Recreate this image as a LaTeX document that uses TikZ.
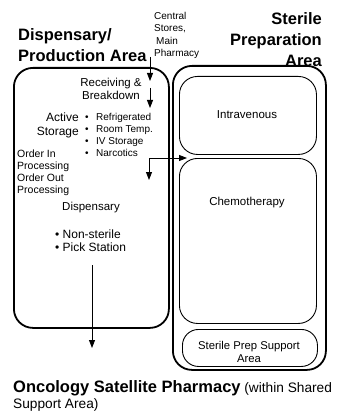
\documentclass[tikz,border=0pt]{standalone}
\usepackage{fontspec}
\setmainfont{Liberation Sans}
\usetikzlibrary{arrows.meta}
\newcommand{\blt}{\makebox[11pt][l]{•}}
\begin{document}
\begin{tikzpicture}[x=1pt,y=-1pt,
  area/.style={draw, line width=1.8pt, rounded corners=19pt, inner sep=0pt, anchor=north west},
  room/.style={draw, line width=0.9pt, rounded corners=18pt, inner sep=0pt, anchor=north west},
  flow/.style={line width=0.9pt, -{Triangle[length=8pt,width=6pt]}},
  twoway/.style={line width=0.9pt, {Triangle[length=8pt,width=6pt]}-{Triangle[length=8pt,width=6pt]}},
  heading/.style={inner sep=0pt, font=\fontsize{16.5}{21}\selectfont\bfseries},
  txt/.style={inner sep=0pt, font=\fontsize{11.5}{12.5}\selectfont},
  small/.style={inner sep=0pt, font=\fontsize{10}{12}\selectfont},
]
\useasboundingbox (0,0) rectangle (340,417);

% outer areas
\node[area, minimum width=155pt, minimum height=260pt] (disp) at (13,67) {};
\node[area, minimum width=153pt, minimum height=304pt] (sterile) at (172,65) {};

% rooms of the sterile preparation area
\node[room, minimum width=137pt, minimum height=78pt] (iv) at (179,76) {};
\node[room, minimum width=137pt, minimum height=165pt] (chemo) at (179,158) {};
\node[room, rounded corners=16pt, minimum width=135pt, minimum height=37pt] (prep) at (182,329) {};

% headings
\node[heading, align=left, anchor=north west] (dtitle) at (18,28) {Dispensary/\\Production Area};
\node[heading, align=right, anchor=north east] (stitle) at (322,12) {Sterile\\Preparation\\Area};

% dispensary contents
\node[small, align=left, anchor=north west, font=\fontsize{10}{12.5}\selectfont] (stores) at (154,12) {Central\\Stores,\\\hspace*{2pt}Main\\Pharmacy};
\node[txt, align=center, anchor=north] (recv) at (111,78) {Receiving \&\\Breakdown};
\node[txt, align=right, anchor=north east, font=\fontsize{12}{13.5}\selectfont] (active) at (79,113) {Active\\Storage};
\node[small, align=left, anchor=north west] (kinds) at (85,113) {\blt Refrigerated\\\blt Room Temp.\\\blt IV Storage\\\blt Narcotics};
\node[small, align=left, anchor=north west, font=\fontsize{10.5}{12}\selectfont] (orders) at (17,150) {Order In\\Processing\\Order Out\\Processing};
\node[txt, anchor=north] (dlabel) at (91,202) {Dispensary};
\node[txt, align=left, anchor=north west, font=\fontsize{12}{12.5}\selectfont] (dkinds) at (55,230) {• Non-sterile\\• Pick Station};

% room labels
\node[txt] (ivlabel) at (247,115) {Intravenous};
\node[txt] (chemolabel) at (247,203) {Chemotherapy};
\node[txt, align=center, font=\fontsize{11.3}{13}\selectfont] (preplabel) at (249,352) {Sterile Prep Support\\Area};

% caption
\node[txt, align=left, anchor=north west, font=\fontsize{13.7}{16}\selectfont] (caption) at (13,380)
  {{\fontsize{16.5}{16}\selectfont\bfseries Oncology Satellite Pharmacy} (within Shared\\Support Area)};

% flow connectors
\coordinate (inA) at (150,57);
\coordinate (inB) at (150,81);
\coordinate (rcA) at (150,88);
\coordinate (rcB) at (150,108);
\coordinate (junction) at (187,158);
\coordinate (down) at (149,180);
\coordinate (outA) at (92,265);
\coordinate (outB) at (92,348);

\draw[flow] (inA) -- (inB);
\draw[flow] (rcA) -- (rcB);
\draw[twoway] (junction) -| (down);
\draw[flow] (outA) -- (outB);
\end{tikzpicture}
\end{document}
